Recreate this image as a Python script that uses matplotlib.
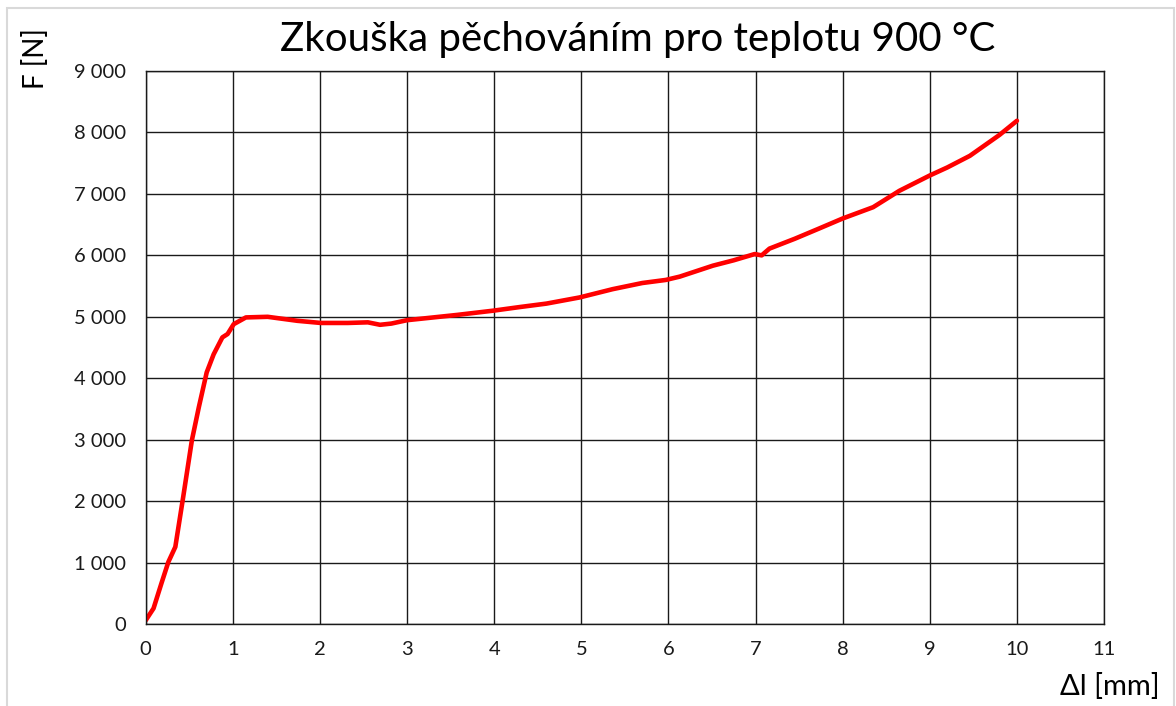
import matplotlib.pyplot as plt
from matplotlib.ticker import FuncFormatter, MultipleLocator
from matplotlib.patches import Rectangle

# deformace [mm] a sila [N] pri pechovani
dl_mm = [0, 0.09, 0.18, 0.26, 0.34, 0.43, 0.53, 0.61, 0.70, 0.78, 0.88, 0.94,
         1.01, 1.15, 1.40, 1.74, 2.01, 2.32, 2.55, 2.69, 2.82, 3.0, 3.57, 3.99,
         4.30, 4.60, 4.98, 5.36, 5.70, 5.97, 6.13, 6.51, 6.75, 6.99, 7.07, 7.16,
         7.45, 7.73, 8.00, 8.35, 8.65, 9.0, 9.20, 9.46, 9.80, 10.0]
force_n = [60, 255, 660, 1010, 1255, 2065, 2990, 3530, 4095, 4390, 4665, 4720,
           4880, 4990, 5000, 4935, 4900, 4900, 4910, 4870, 4890, 4945, 5030, 5100,
           5160, 5215, 5315, 5450, 5550, 5600, 5654, 5832, 5920, 6021, 6000, 6110,
           6270, 6437, 6600, 6784, 7050, 7300, 7430, 7620, 7960, 8190]

title = "Zkouška pěchováním pro teplotu 900 °C"

plt.rcParams['font.family'] = ['Lato', 'DejaVu Sans']

fig = plt.figure(figsize=(11.76, 7.06), dpi=100)
ax = fig.add_axes([0.1239, 0.1161, 0.8149, 0.7833])

ax.plot(dl_mm, force_n, color="red", lw=3.3, solid_capstyle="round",
        solid_joinstyle="round")

ax.set_xlim(0, 11)
ax.set_ylim(0, 9000)
ax.xaxis.set_major_locator(MultipleLocator(1))
ax.yaxis.set_major_locator(MultipleLocator(1000))
ax.yaxis.set_major_formatter(FuncFormatter(lambda v, p: "{:,.0f}".format(v).replace(",", " ")))
ax.grid(True, color="#1a1a1a", lw=1.0)
ax.set_axisbelow(True)
for s in ax.spines.values():
    s.set_color("#1a1a1a")
    s.set_linewidth(1.0)
ax.tick_params(length=0, labelsize=14.5, colors="#1a1a1a")
ax.tick_params(axis="y", pad=14)
ax.tick_params(axis="x", pad=12)

fig.text(638 / 1176, 1 - 40 / 706, title, ha="center", va="center", fontsize=29)
fig.text(35 / 1176, 1 - 28 / 706, "F [N]", rotation=90, ha="center", va="top", fontsize=20)
fig.text(1160 / 1176, 1 - 700 / 706, "Δl [mm]", ha="right", va="bottom", fontsize=21)

# svetle sedy ramecek grafu
fig.patches.append(Rectangle((7 / 1176, -0.05), 1167 / 1176, 1.05 - 8 / 706,
                             transform=fig.transFigure, fill=False,
                             edgecolor="#d9d9d9", lw=1.5))

fig.savefig("out.png", dpi=100)
